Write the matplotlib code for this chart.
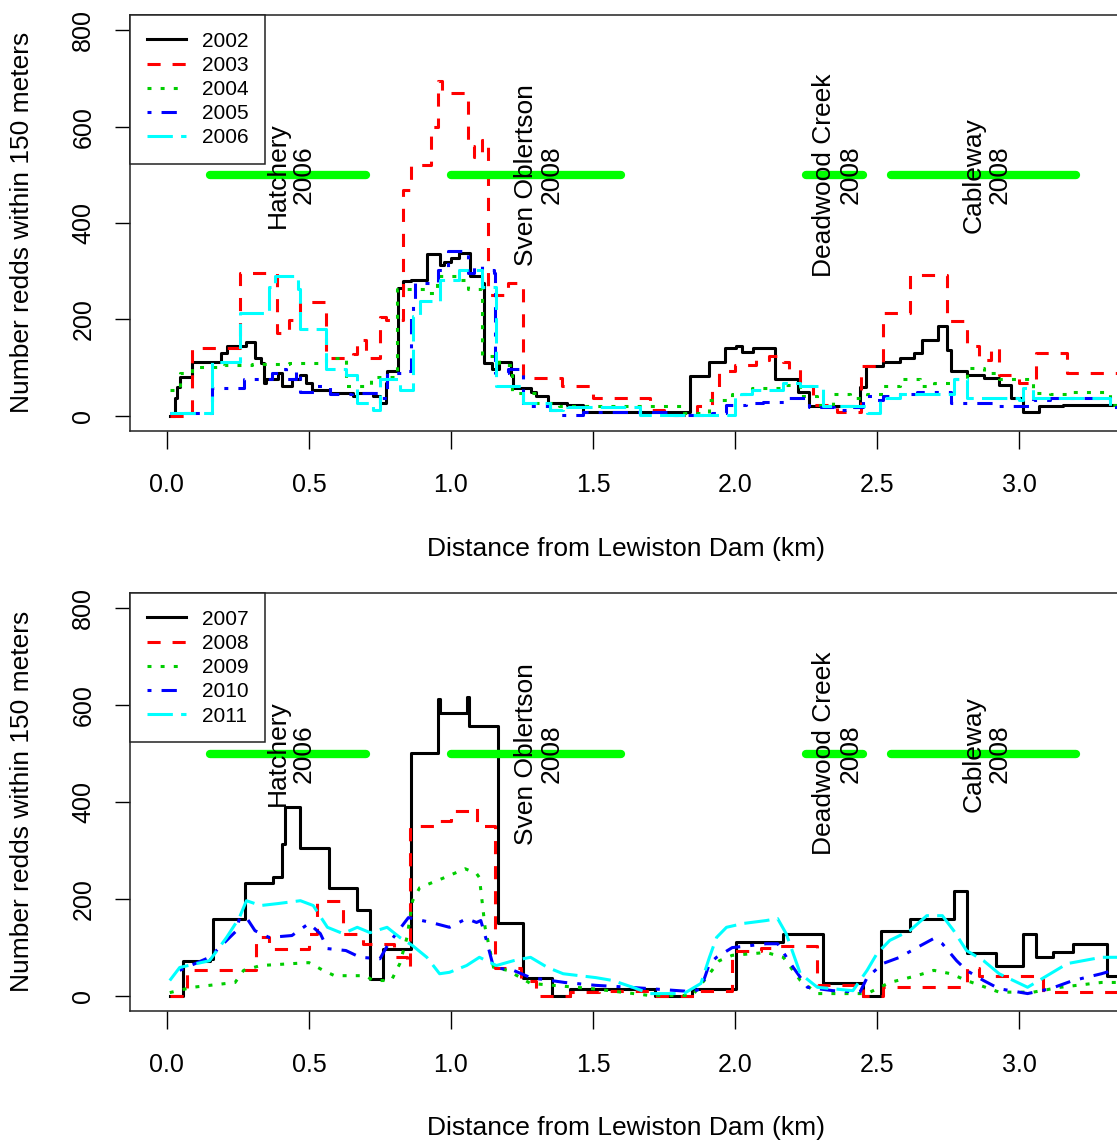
import matplotlib.pyplot as plt

plt.rcParams['font.family'] = ['Liberation Sans', 'DejaVu Sans']

# distance (km), redds within 150 m  -- top panel
r2002 = [(0.01, 0), (0.03, 37), (0.035, 60), (0.046, 81), (0.09, 112), (0.19, 129), (0.21, 144),
         (0.28, 153), (0.31, 120), (0.33, 110), (0.34, 68), (0.35, 75), (0.39, 89), (0.405, 61),
         (0.44, 75), (0.47, 85), (0.49, 68), (0.51, 54), (0.575, 47), (0.655, 40), (0.67, 47),
         (0.725, 40), (0.75, 27), (0.77, 68), (0.775, 92), (0.815, 265), (0.83, 279), (0.86, 282),
         (0.915, 336), (0.96, 313), (0.975, 320), (1.0, 328), (1.03, 338), (1.067, 289), (1.11, 276),
         (1.115, 110), (1.145, 96), (1.17, 112), (1.21, 85), (1.22, 58), (1.28, 50), (1.30, 40),
         (1.34, 27), (1.41, 22), (1.465, 8), (1.84, 83), (1.91, 112), (1.965, 141), (2.005, 144),
         (2.025, 133), (2.065, 141), (2.14, 75), (2.22, 50), (2.26, 19), (2.42, 17), (2.44, 60),
         (2.46, 102), (2.52, 112), (2.58, 120), (2.63, 131), (2.66, 158), (2.715, 187), (2.745, 137),
         (2.76, 92), (2.815, 85), (2.875, 79), (2.93, 64), (2.97, 37), (3.015, 8), (3.07, 19),
         (3.155, 23), (3.40, 23)]
r2003 = [(0.01, 0), (0.09, 141), (0.257, 297), (0.387, 172), (0.43, 199), (0.47, 236), (0.56, 120),
         (0.655, 127), (0.67, 158), (0.70, 120), (0.75, 204), (0.77, 199), (0.83, 469), (0.86, 521),
         (0.93, 600), (0.955, 694), (0.97, 670), (1.06, 559), (1.08, 538), (1.11, 573), (1.13, 251),
         (1.2, 276), (1.255, 79), (1.39, 61), (1.5, 37), (1.70, 12), (1.75, 2), (1.865, 19),
         (1.92, 54), (1.945, 92), (2.0, 106), (2.075, 116), (2.12, 123), (2.17, 112), (2.19, 96),
         (2.23, 61), (2.275, 23), (2.36, 8), (2.445, 102), (2.51, 112), (2.52, 213), (2.615, 293),
         (2.745, 196), (2.815, 144), (2.86, 116), (2.90, 141), (2.93, 85), (3.0, 68), (3.06, 131),
         (3.17, 89), (3.40, 89)]
r2004 = [(0.01, 54), (0.045, 89), (0.09, 100), (0.2, 105), (0.3, 108), (0.43, 110), (0.56, 120),
         (0.63, 61), (0.72, 81), (0.81, 262), (0.915, 255), (0.95, 289), (1.02, 282), (1.06, 262),
         (1.11, 123), (1.17, 106), (1.215, 47), (1.3, 27), (1.38, 19), (1.82, 6), (1.91, 33),
         (1.99, 44), (2.06, 58), (2.17, 64), (2.23, 40), (2.29, 23), (2.345, 44), (2.405, 37),
         (2.465, 44), (2.52, 61), (2.58, 75), (2.65, 61), (2.70, 68), (2.76, 75), (2.815, 99),
         (2.875, 89), (2.93, 75), (2.99, 77), (3.05, 47), (3.11, 44), (3.17, 50), (3.32, 23), (3.40, 23)]
r2005 = [(0.01, 6), (0.16, 58), (0.27, 75), (0.37, 89), (0.395, 96), (0.42, 75), (0.455, 92),
         (0.47, 50), (0.53, 61), (0.575, 44), (0.65, 47), (0.75, 37), (0.775, 89), (0.85, 92),
         (0.86, 206), (0.865, 234), (0.875, 276), (0.955, 303), (0.99, 341), (1.06, 297), (1.08, 310),
         (1.11, 303), (1.15, 297), (1.155, 89), (1.2, 96), (1.255, 19), (1.35, 12), (1.38, 2),
         (1.465, 8), (1.76, 2), (1.92, 6), (1.97, 23), (2.04, 27), (2.10, 29), (2.18, 37), (2.26, 17),
         (2.35, 12), (2.415, 17), (2.45, 40), (2.5, 33), (2.52, 40), (2.58, 44), (2.64, 50), (2.76, 27),
         (2.93, 19), (3.05, 33), (3.11, 37), (3.32, 17), (3.40, 17)]
r2006 = [(0.01, 6), (0.16, 112), (0.257, 213), (0.36, 268), (0.38, 289), (0.46, 262), (0.47, 179),
         (0.56, 96), (0.63, 85), (0.67, 27), (0.725, 12), (0.75, 75), (0.82, 54), (0.865, 206),
         (0.89, 237), (0.96, 282), (1.03, 303), (1.11, 268), (1.16, 61), (1.255, 27), (1.35, 12),
         (1.395, 19), (1.41, 17), (1.665, 2), (2.0, 40), (2.02, 44), (2.06, 54), (2.17, 68), (2.23, 61),
         (2.31, 19), (2.465, 6), (2.51, 37), (2.58, 44), (2.77, 75), (2.815, 37), (3.0, 33),
         (3.015, 58), (3.05, 37), (3.32, 17), (3.40, 17)]

# bottom panel
r2007 = [(0.01, 0), (0.057, 72), (0.15, 76), (0.163, 159), (0.26, 159), (0.275, 233), (0.375, 244),
         (0.405, 314), (0.415, 389), (0.47, 304), (0.57, 223), (0.67, 176), (0.715, 35), (0.76, 97),
         (0.86, 502), (0.955, 612), (0.96, 583), (1.055, 618), (1.062, 558), (1.165, 149), (1.255, 37),
         (1.355, 0), (1.42, 14), (1.72, 0), (1.85, 14), (2.005, 110), (2.17, 128), (2.31, 25),
         (2.45, 0), (2.515, 134), (2.615, 159), (2.77, 217), (2.815, 87), (2.92, 62), (3.015, 128),
         (3.06, 79), (3.12, 89), (3.19, 107), (3.31, 41), (3.40, 41)]
r2008 = [(0.01, 0), (0.07, 52), (0.315, 120), (0.36, 97), (0.5, 128), (0.53, 196), (0.62, 128),
         (0.69, 107), (0.8, 79), (0.845, 58), (0.855, 351), (0.95, 360), (1.0, 382), (1.07, 388),
         (1.09, 351), (1.155, 56), (1.245, 31), (1.30, 0), (1.42, 7), (1.52, 10), (1.72, 0),
         (1.865, 10), (1.99, 93), (2.09, 99), (2.13, 103), (2.29, 21), (2.45, 0), (2.52, 17),
         (2.815, 56), (2.86, 41), (3.085, 7), (3.40, 7)]
r2009 = [(0.01, 6), (0.09, 17), (0.24, 27), (0.27, 52), (0.33, 62), (0.5, 68), (0.55, 52), (0.59, 41),
         (0.7, 41), (0.725, 31), (0.79, 31), (0.82, 66), (0.845, 120), (0.865, 196), (0.89, 223),
         (0.97, 242), (1.05, 262), (1.09, 252), (1.10, 244), (1.12, 141), (1.15, 58), (1.2, 52),
         (1.28, 25), (1.5, 14), (1.7, 0), (1.85, 0), (1.91, 45), (1.945, 72), (1.99, 83), (2.11, 89),
         (2.17, 79), (2.23, 31), (2.29, 4), (2.465, 4), (2.545, 27), (2.64, 41), (2.7, 52), (2.76, 45),
         (2.815, 31), (2.93, 7), (3.05, 7), (3.145, 17), (3.29, 27), (3.40, 27)]
r2010 = [(0.045, 52), (0.15, 79), (0.245, 134), (0.255, 159), (0.28, 161), (0.31, 134), (0.36, 120),
         (0.44, 124), (0.5, 149), (0.54, 128), (0.565, 97), (0.63, 93), (0.68, 79), (0.75, 76),
         (0.78, 107), (0.85, 161), (0.93, 151), (0.995, 141), (1.055, 159), (1.09, 151), (1.105, 155),
         (1.125, 114), (1.15, 58), (1.22, 52), (1.28, 37), (1.4, 27), (1.51, 21), (1.63, 17),
         (1.85, 8), (1.88, 14), (1.91, 66), (1.935, 79), (1.99, 99), (2.11, 107), (2.15, 107),
         (2.205, 58), (2.255, 17), (2.345, 10), (2.44, 7), (2.465, 37), (2.52, 66), (2.58, 79),
         (2.64, 99), (2.70, 118), (2.73, 107), (2.78, 72), (2.815, 52), (2.875, 31), (2.93, 14),
         (3.03, 4), (3.11, 14), (3.19, 31), (3.29, 45), (3.33, 52), (3.40, 52)]
r2011 = [(0.01, 31), (0.045, 58), (0.15, 72), (0.21, 120), (0.255, 161), (0.28, 196), (0.33, 186),
         (0.39, 190), (0.47, 196), (0.515, 186), (0.565, 141), (0.62, 128), (0.67, 141), (0.715, 130),
         (0.775, 141), (0.82, 120), (0.865, 103), (0.915, 79), (0.96, 45), (0.995, 48), (1.055, 62),
         (1.10, 79), (1.16, 62), (1.22, 72), (1.28, 79), (1.34, 58), (1.395, 45), (1.51, 37),
         (1.57, 31), (1.64, 17), (1.70, 4), (1.82, 4), (1.88, 25), (1.91, 79), (1.935, 120),
         (1.97, 141), (2.03, 149), (2.11, 155), (2.15, 159), (2.18, 128), (2.23, 45), (2.29, 17),
         (2.415, 10), (2.465, 52), (2.50, 87), (2.545, 114), (2.615, 134), (2.675, 165), (2.73, 165),
         (2.77, 134), (2.815, 93), (2.875, 72), (2.93, 45), (3.03, 17), (3.11, 45), (3.17, 66),
         (3.29, 79), (3.40, 79)]

years_top = ["2002", "2003", "2004", "2005", "2006"]
years_bottom = ["2007", "2008", "2009", "2010", "2011"]

sites = ["Hatchery\n2006", "Sven Oblertson\n2008", "Deadwood Creek\n2008", "Cableway\n2008"]
site_start = [0.15, 1.00, 2.25, 2.55]
site_end = [0.70, 1.60, 2.45, 3.20]
site_level = 500

colors = ["black", "red", "#00CD00", "blue", "cyan"]
styles = ["-", (0, (4.3, 3.9)), (0, (1.3, 3.0)), (0, (1.3, 3.3, 5, 3.3)), (0, (8.3, 2.7))]

fig = plt.figure(figsize=(11.17, 11.44), dpi=100)
W, H = 1117, 1144
ax1 = fig.add_axes([130 / W, 1 - 431 / H, 997 / W, 416 / H])
ax2 = fig.add_axes([130 / W, 1 - 1011 / H, 997 / W, 418 / H])


def draw(ax, series, years, steps, xlab_y, ylab_y):
    for s, yr, c, ls, st in zip(series, years, colors, styles, steps):
        x = [p[0] for p in s]
        y = [p[1] for p in s]
        ax.plot(x, y, color=c, linestyle=ls, lw=2.2, label=yr,
                drawstyle="steps-post" if st else "default")
    for name, a, b in zip(sites, site_start, site_end):
        ax.plot([a, b], [site_level, site_level], color="#00FF00", lw=6,
                solid_capstyle="round", zorder=3)
        ax.text((a + b) / 2 + 0.01, site_level, name, rotation=90, ha="center", va="center",
                fontsize=19, linespacing=1.1, multialignment="center", zorder=4)
    ax.set_xlim(-0.130, 3.380)
    ax.set_ylim(-32, 832)
    ax.set_xticks([0, 0.5, 1, 1.5, 2, 2.5, 3])
    ax.set_xticklabels(["0.0", "0.5", "1.0", "1.5", "2.0", "2.5", "3.0"])
    ax.set_yticks([0, 200, 400, 600, 800])
    ax.tick_params(axis="x", direction="out", length=13, width=1, pad=17, labelsize=18)
    ax.tick_params(axis="y", direction="out", length=11, width=1, pad=14, labelsize=18,
                   labelrotation=90)
    for lab in ax.get_yticklabels():
        lab.set_va("center")
    for sp in ax.spines.values():
        sp.set_linewidth(1.1)
        sp.set_color("#222222")
    leg = ax.legend(loc="upper left", borderaxespad=0, fancybox=False, edgecolor="#222222",
                    fontsize=15, handlelength=1.9, handletextpad=0.75, borderpad=0.8,
                    labelspacing=0.25, framealpha=1)
    leg.get_frame().set_linewidth(1.1)
    leg.set_zorder(10)
    fig.text(626 / W, 1 - xlab_y / H, "Distance from Lewiston Dam (km)", ha="center",
             va="center", fontsize=19)
    fig.text(22 / W, 1 - ylab_y / H, "Number redds within 150 meters", ha="center",
             va="center", rotation=90, fontsize=19)


draw(ax1, [r2002, r2003, r2004, r2005, r2006], years_top,
     [True, True, True, True, True], 549, 222)
draw(ax2, [r2007, r2008, r2009, r2010, r2011], years_bottom,
     [True, True, False, False, False], 1128, 801)

fig.savefig("out.png", dpi=100)
